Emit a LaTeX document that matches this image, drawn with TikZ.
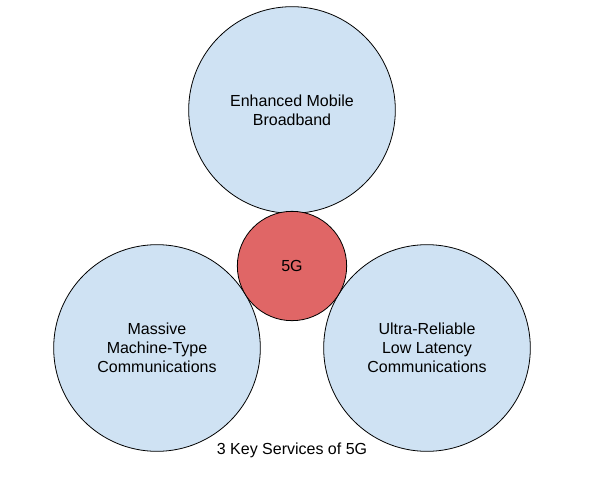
\documentclass[tikz,border=0pt]{standalone}
\usepackage{fontspec}
\setmainfont{Liberation Sans}
\usetikzlibrary{positioning}
\definecolor{serviceblue}{HTML}{CFE2F3}
\definecolor{corered}{HTML}{E06666}

\begin{document}
\begin{tikzpicture}[x=0.75pt,y=-0.75pt,align=center,font=\fontsize{12}{14.25}\selectfont]

    \tikzstyle{service}=[draw=black,line width=0.6pt,circle,fill=serviceblue,text=black,minimum size=155pt,inner sep=0pt]
    \tikzstyle{core}=[service,fill=corered,minimum size=82pt]

    \useasboundingbox (0,0) rectangle (590,479);

    \node[service] (E) at (292,110)            {Enhanced Mobile\\Broadband};
    \node[service] (M) at (157,348)            {Massive\\Machine-Type\\Communications};
    \node[service] (U) at (427,348)            {Ultra-Reliable\\Low Latency\\Communications};
    \node[core]    (G) at (292,266)            {5G};

    \node (T) at (292,450) {3 Key Services of 5G};
\end{tikzpicture}
\end{document}
